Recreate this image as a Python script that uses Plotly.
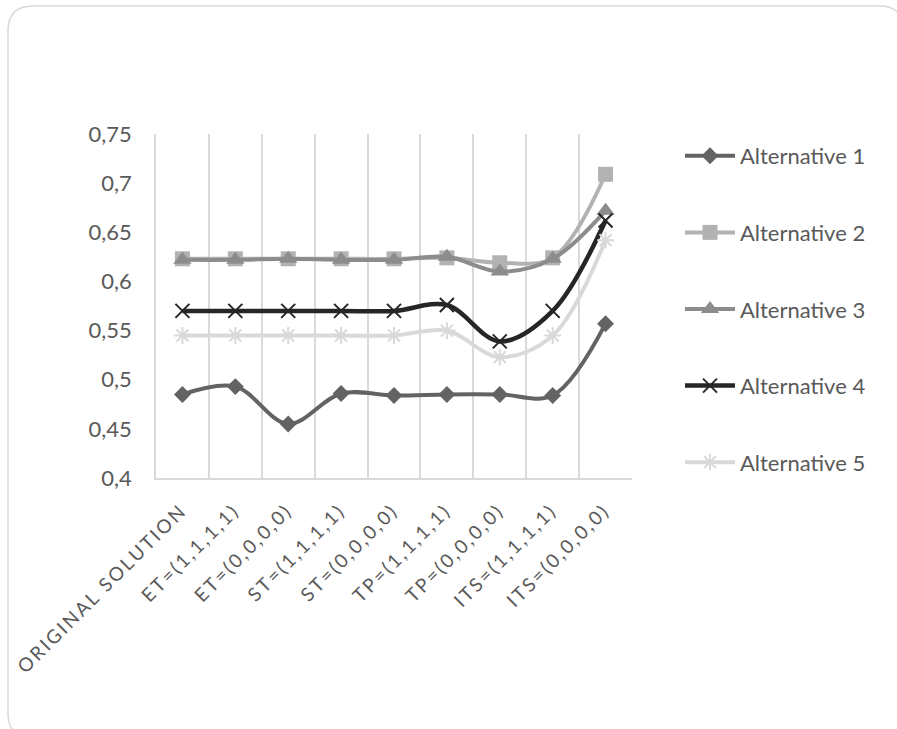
import plotly.graph_objects as go

# Scenario categories on the x axis
categories = [
    "ORIGINAL SOLUTION",
    "ET=(1,1,1,1)",
    "ET=(0,0,0,0)",
    "ST=(1,1,1,1)",
    "ST=(0,0,0,0)",
    "TP=(1,1,1,1)",
    "TP=(0,0,0,0)",
    "ITS=(1,1,1,1)",
    "ITS=(0,0,0,0)",
]

# Scores of each alternative under every scenario
alt1 = [0.485, 0.493, 0.455, 0.486, 0.484, 0.485, 0.485, 0.484, 0.557]
alt2 = [0.623, 0.623, 0.623, 0.623, 0.623, 0.624, 0.619, 0.624, 0.709]
alt3 = [0.622, 0.622, 0.623, 0.622, 0.622, 0.625, 0.610, 0.623, 0.672]
alt4 = [0.570, 0.570, 0.570, 0.570, 0.570, 0.576, 0.539, 0.570, 0.662]
alt5 = [0.545, 0.545, 0.545, 0.545, 0.545, 0.550, 0.523, 0.545, 0.642]

series_names = ["Alternative 1", "Alternative 2", "Alternative 3",
                "Alternative 4", "Alternative 5"]

y_ticks = [0.4, 0.45, 0.5, 0.55, 0.6, 0.65, 0.7, 0.75]

W, H = 897, 729
L, R, T, B = 156, 265, 134, 251
PW, PH = W - L - R, H - T - B

FONT = "Lato"
TEXT = "#595959"


def px(x):
    return (x - L) / PW


def py(y):
    return (H - B - y) / PH


def spaced(label):
    # letter-spaced category labels, joined with thin spaces
    return "\u2009".join(label)


styles = [
    dict(color="#636363", symbol="diamond", size=13, lw=4),
    dict(color="#b2b2b2", symbol="square", size=15, lw=4),
    dict(color="#8c8c8c", symbol="triangle-up", size=16, lw=4),
    dict(color="#262626", symbol="x-thin-open", size=14, lw=4.5),
    dict(color="#d9d9d9", symbol="asterisk-open", size=14, lw=4),
]

fig = go.Figure()
for name, vals, st in zip(series_names, [alt1, alt2, alt3, alt4, alt5], styles):
    marker = dict(symbol=st["symbol"], size=st["size"], color=st["color"])
    if st["symbol"].endswith("open"):
        marker["line"] = dict(color=st["color"], width=2)
    fig.add_trace(go.Scatter(
        x=categories, y=vals, name=name, legendgroup=name,
        mode="lines+markers",
        line=dict(color=st["color"], width=st["lw"], shape="spline", smoothing=1.0),
        marker=marker,
    ))

# Rounded frame around the whole chart
x0, y0, x1, y1, r = 8, 6, 904, 738, 25
path = (
    f"M {px(x0 + r)},{py(y0)} L {px(x1 - r)},{py(y0)} "
    f"Q {px(x1)},{py(y0)} {px(x1)},{py(y0 + r)} "
    f"L {px(x1)},{py(y1 - r)} Q {px(x1)},{py(y1)} {px(x1 - r)},{py(y1)} "
    f"L {px(x0 + r)},{py(y1)} Q {px(x0)},{py(y1)} {px(x0)},{py(y1 - r)} "
    f"L {px(x0)},{py(y0 + r)} Q {px(x0)},{py(y0)} {px(x0 + r)},{py(y0)} Z"
)
fig.add_shape(type="path", path=path, xref="paper", yref="paper",
              line=dict(color="#d9d9d9", width=1.5), layer="below")

fig.update_layout(
    width=W, height=H,
    margin=dict(l=L, r=R, t=T, b=B, autoexpand=False),
    paper_bgcolor="white", plot_bgcolor="white",
    separators=", ",
    font=dict(family=FONT, color=TEXT, size=22),
    showlegend=True,
    legend=dict(
        x=px(680), y=py(135), xanchor="left", yanchor="top",
        maxheight=600,
        font=dict(family=FONT, color=TEXT, size=22),
        tracegroupgap=45, itemwidth=50,
        bgcolor="rgba(0,0,0,0)",
    ),
    xaxis=dict(
        type="category", tickson="boundaries",
        showgrid=True, gridcolor="#d9d9d9", gridwidth=1.5,
        showline=True, linecolor="#d9d9d9", linewidth=1.5,
        ticks="", tickangle=-45,
        tickvals=categories, ticktext=[spaced(c) for c in categories],
        ticklabelshift=-3, ticklabelstandoff=14,
        tickfont=dict(family=FONT, color=TEXT, size=19),
        range=[-0.5, 8.5], fixedrange=True,
    ),
    yaxis=dict(
        range=[0.4, 0.75], tickvals=y_ticks,
        showgrid=False, zeroline=False,
        showline=True, linecolor="#d9d9d9", linewidth=1.5,
        ticks="", ticklabelstandoff=18,
        tickfont=dict(family=FONT, color=TEXT, size=22),
    ),
)

fig.write_html("out.html")
